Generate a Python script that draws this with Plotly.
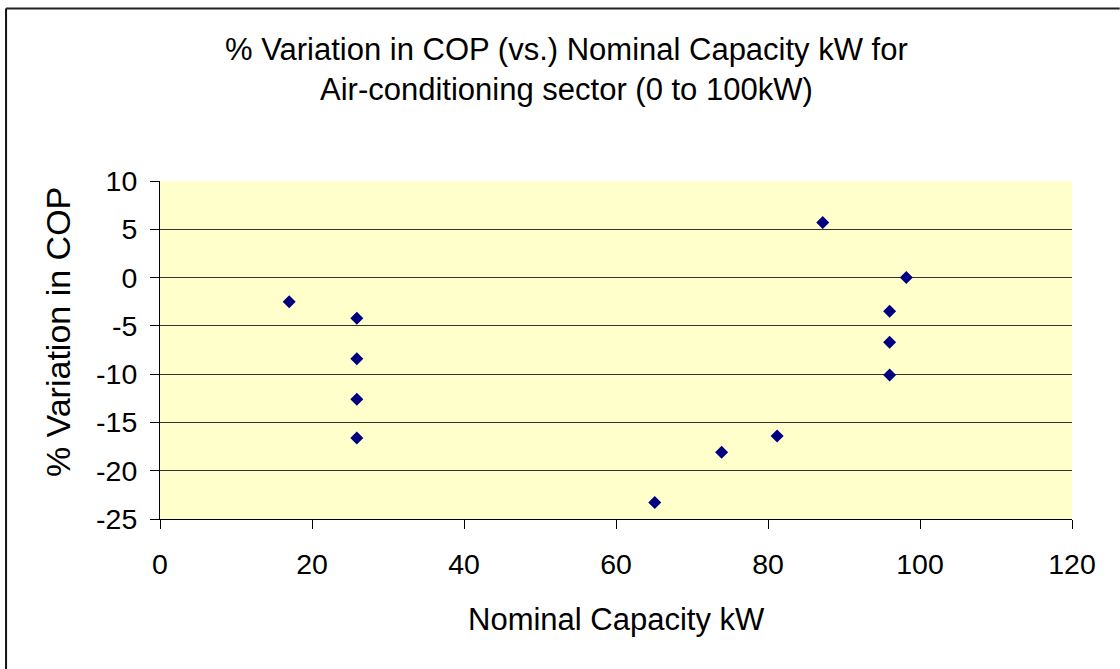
import plotly.graph_objects as go

# Nominal capacity (kW) and % variation in COP for each unit
capacity_kw = [17.0, 25.9, 25.9, 25.9, 25.9, 65.1, 73.9, 81.2, 87.2, 96.0, 96.0, 96.0, 98.2]
cop_variation = [-2.5, -4.2, -8.4, -12.6, -16.6, -23.3, -18.1, -16.4, 5.7, -3.5, -6.7, -10.1, 0.0]

# Axis ticks (plain hyphen for negatives)
x_ticks = [0, 20, 40, 60, 80, 100, 120]
y_ticks = [10, 5, 0, -5, -10, -15, -20, -25]
y_tick_labels = ["10", "5", "0", "-5", "-10", "-15", "-20", "-25"]

title_lines = ["% Variation in COP (vs.) Nominal Capacity kW for",
               "Air-conditioning sector (0 to 100kW)"]
x_title = "Nominal Capacity kW"
y_title = "% Variation in COP"

FONT = "Liberation Sans, Arial, sans-serif"

fig = go.Figure()
fig.add_trace(go.Scatter(
    x=capacity_kw, y=cop_variation, mode="markers",
    marker=dict(symbol="diamond", size=10, color="#000080",
                line=dict(width=0)),
    showlegend=False, hoverinfo="x+y",
))

fig.update_layout(
    width=1120, height=669,
    margin=dict(l=160, r=48, t=181, b=150),
    paper_bgcolor="white",
    plot_bgcolor="#FFFFCC",
    font=dict(family=FONT, size=28, color="black"),
    xaxis=dict(
        range=[0, 120], tickvals=x_ticks,
        ticktext=[str(v) for v in x_ticks],
        showgrid=False, zeroline=False,
        showline=True, linecolor="black", linewidth=1,
        ticks="outside", ticklen=9, tickcolor="black", tickwidth=1,
        tickfont=dict(size=28.5), ticklabelstandoff=11,
    ),
    yaxis=dict(
        range=[-25, 10], tickvals=y_ticks, ticktext=y_tick_labels,
        showgrid=True, gridcolor="#333333", gridwidth=1,
        zeroline=False,
        showline=True, linecolor="black", linewidth=1,
        ticks="outside", ticklen=9, tickcolor="black", tickwidth=1,
        tickfont=dict(size=28.5), ticklabelstandoff=7,
    ),
    annotations=[
        dict(text="<br>".join(title_lines), xref="paper", yref="paper",
             x=0.446, y=1.330, xanchor="center", yanchor="middle",
             showarrow=False, font=dict(size=31)),
        dict(text=x_title, xref="paper", yref="paper",
             x=0.5, y=-0.2986, xanchor="center", yanchor="middle",
             showarrow=False, font=dict(size=31)),
        dict(text=y_title, xref="paper", yref="paper",
             x=-0.1118, y=0.553, xanchor="center", yanchor="middle",
             textangle=-90, showarrow=False, font=dict(size=34)),
    ],
    shapes=[
        # chart area frame (top and left edges)
        dict(type="line", xref="paper", yref="paper",
             x0=-154 / 912.3, x1=960 / 912.3, y0=511 / 338.3, y1=511 / 338.3,
             line=dict(color="#222222", width=2)),
        dict(type="line", xref="paper", yref="paper",
             x0=-154 / 912.3, x1=-154 / 912.3, y0=511 / 338.3, y1=-160 / 338.3,
             line=dict(color="#111111", width=2)),
    ],
)

fig.write_html("out.html")
